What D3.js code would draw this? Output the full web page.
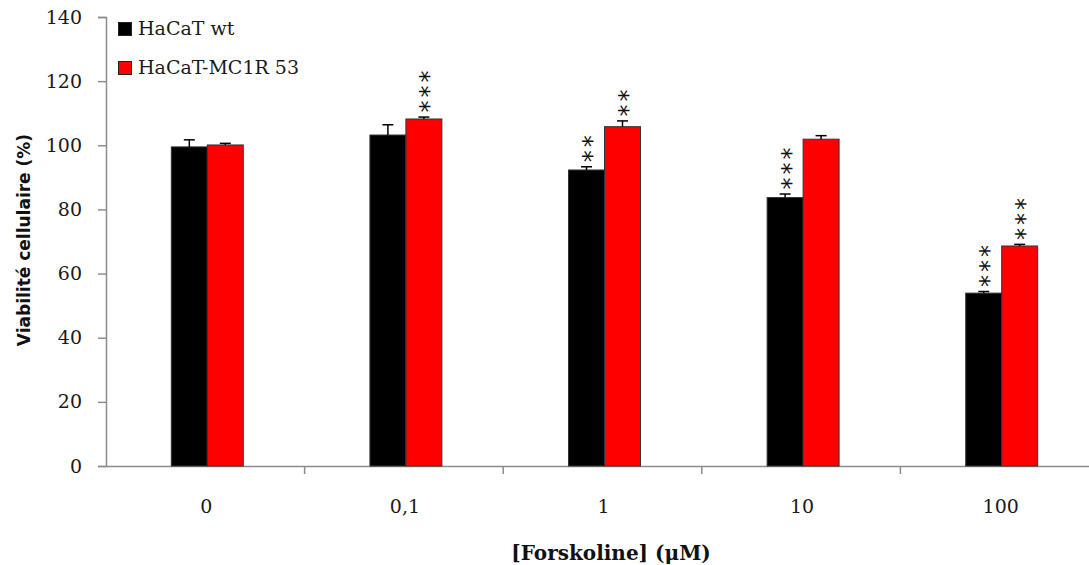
<!DOCTYPE html>
<html>
<head>
<meta charset="utf-8">
<script src="https://cdn.jsdelivr.net/npm/d3@7"></script>
<style>
  html, body { margin: 0; padding: 0; background: #fff; }
  svg { display: block; }
</style>
</head>
<body>
<svg id="chart" width="1089" height="565"></svg>
<script>
const categories = ["0", "0,1", "1", "10", "100"];
const seriesNames = ["HaCaT wt", "HaCaT-MC1R 53"];
const wtValues = [99.5, 103.2, 92.3, 83.7, 53.9];
const wtErrors = [2.2, 3.2, 1.0, 1.1, 0.5];
const mc1rValues = [100.1, 108.2, 105.8, 101.9, 68.6];
const mc1rErrors = [0.5, 0.6, 1.8, 1.1, 0.5];
const wtStars = ["", "", "**", "***", "***"];
const mc1rStars = ["", "***", "**", "", "***"];
const yTicks = [0, 20, 40, 60, 80, 100, 120, 140];
const colors = ["#000000", "#ff0000"];

const svg = d3.select("#chart");
const serif = "'DejaVu Serif', serif";

const x = d3.scaleBand().domain(categories).range([106, 1099]).paddingInner(0).paddingOuter(0);
const xSub = d3.scaleBand().domain(seriesNames).range([0, x.bandwidth()]).paddingInner(0).paddingOuter(1.76);
const y = d3.scaleLinear().domain([0, 140]).range([466, 17]);

const data = categories.map((c, i) => ({
  cat: c,
  bars: [
    {s: seriesNames[0], v: wtValues[i], e: wtErrors[i], stars: wtStars[i], color: colors[0]},
    {s: seriesNames[1], v: mc1rValues[i], e: mc1rErrors[i], stars: mc1rStars[i], color: colors[1]}
  ]
}));

// Y axis
const yAxis = d3.axisLeft(y).tickValues(yTicks).tickSize(8).tickPadding(16).tickFormat(d3.format("d"));
const yg = svg.append("g").attr("transform", "translate(106,0)").call(yAxis);
yg.select(".domain").attr("stroke", "#8c8c8c").attr("stroke-width", 1.5);
yg.selectAll(".tick line").attr("stroke", "#8c8c8c").attr("stroke-width", 1.5);
yg.selectAll(".tick text").attr("font-family", serif).attr("font-size", 19).attr("fill", "#1a1a1a");

// X axis
const xAxis = d3.axisBottom(x).tickSize(0).tickPadding(0);
const xg = svg.append("g").attr("transform", "translate(0,466)").call(xAxis);
xg.select(".domain").attr("stroke", "#8c8c8c").attr("stroke-width", 1.5);
xg.selectAll(".tick line").remove();
xg.selectAll(".tick text").attr("font-family", serif).attr("font-size", 19).attr("fill", "#1a1a1a")
  .attr("y", 47).attr("dy", 0).attr("dx", 1);
// separator ticks between categories
const sepPositions = categories.slice(1).map(c => x(c));
svg.append("g").selectAll("line").data(sepPositions).join("line")
  .attr("x1", d => d).attr("x2", d => d).attr("y1", 466).attr("y2", 474)
  .attr("stroke", "#8c8c8c").attr("stroke-width", 1.5);

// Bars
const groups = svg.append("g").selectAll("g").data(data).join("g")
  .attr("transform", d => `translate(${x(d.cat) + 2},0)`);

groups.selectAll("rect").data(d => d.bars).join("rect")
  .attr("x", d => xSub(d.s))
  .attr("y", d => y(d.v))
  .attr("width", xSub.bandwidth())
  .attr("height", d => y(0) - y(d.v))
  .attr("fill", d => d.color)
  .attr("stroke", "#333")
  .attr("stroke-width", 1);

// Error bars (upper)
const eb = groups.selectAll("g.err").data(d => d.bars).join("g").attr("class", "err");
eb.append("line")
  .attr("x1", d => xSub(d.s) + xSub.bandwidth() / 2)
  .attr("x2", d => xSub(d.s) + xSub.bandwidth() / 2)
  .attr("y1", d => y(d.v)).attr("y2", d => y(d.v + d.e))
  .attr("stroke", "#000").attr("stroke-width", 1.5);
eb.append("line")
  .attr("x1", d => xSub(d.s) + xSub.bandwidth() / 2 - 5.5)
  .attr("x2", d => xSub(d.s) + xSub.bandwidth() / 2 + 5.5)
  .attr("y1", d => y(d.v + d.e)).attr("y2", d => y(d.v + d.e))
  .attr("stroke", "#000").attr("stroke-width", 1.5);

// Significance stars: one rotated text per stack (asterisks stacked vertically)
groups.each(function(d) {
  const g = d3.select(this);
  d.bars.forEach(b => {
    if (!b.stars) return;
    const cx = xSub(b.s) + xSub.bandwidth() / 2 - 1;
    const top = y(b.v + b.e);
    g.append("text")
      .attr("transform", `translate(${cx},${top - 4.5}) rotate(-90)`)
      .attr("dy", "0.6em")
      .attr("text-anchor", "start")
      .attr("font-family", "'DejaVu Sans', sans-serif")
      .attr("font-size", 24)
      .attr("letter-spacing", 3)
      .attr("fill", "#111")
      .text(b.stars);
  });
});

// Legend
const legend = svg.append("g");
seriesNames.forEach((s, i) => {
  legend.append("rect").attr("x", 118.5).attr("y", 22.5 + i * 39).attr("width", 13).attr("height", 13)
    .attr("fill", colors[i]).attr("stroke", "#222").attr("stroke-width", 1);
  legend.append("text").attr("x", 138).attr("y", 35 + i * 39)
    .attr("font-family", serif).attr("font-size", 19).attr("fill", "#1a1a1a").text(s);
});

// Axis titles
svg.append("text")
  .attr("transform", "translate(30,240) rotate(-90)")
  .attr("text-anchor", "middle")
  .attr("font-family", "'DejaVu Sans', sans-serif")
  .attr("font-weight", "bold").attr("font-size", 17).attr("fill", "#111")
  .text("Viabilité cellulaire (%)");

svg.append("text")
  .attr("x", 611).attr("y", 560)
  .attr("text-anchor", "middle")
  .attr("font-family", serif)
  .attr("font-weight", "bold").attr("font-size", 20).attr("fill", "#111")
  .text("[Forskoline] (μM)");
</script>
</body>
</html>
